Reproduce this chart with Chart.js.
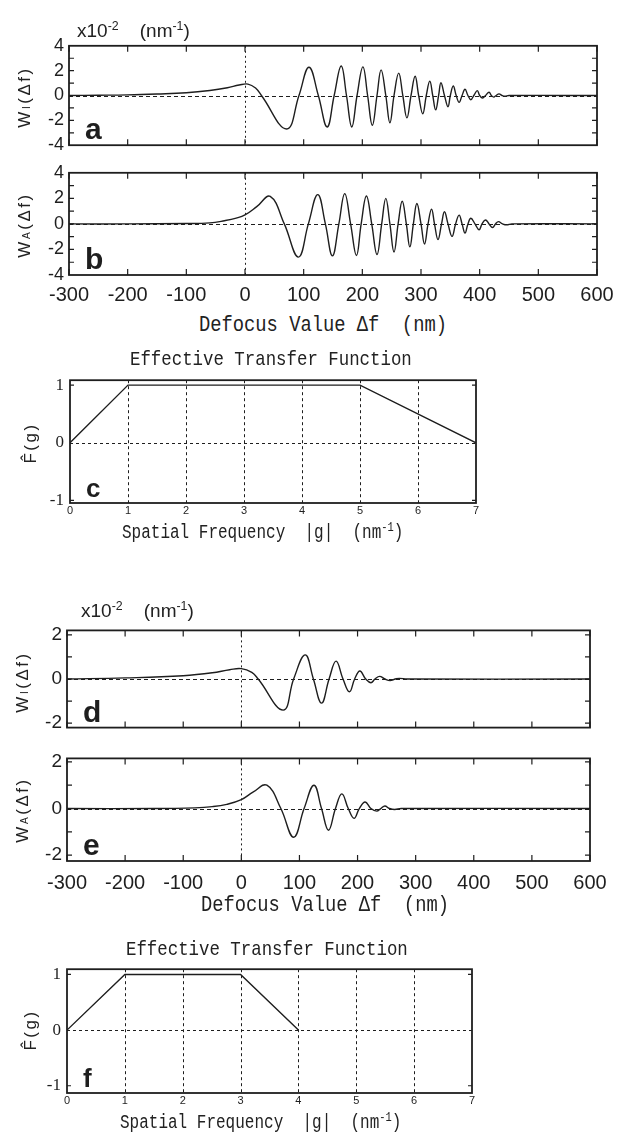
<!DOCTYPE html>
<html>
<head>
<meta charset="utf-8">
<script src="https://cdn.jsdelivr.net/npm/chart.js"></script>
<style>
  html, body { margin: 0; padding: 0; background: #fff; }
  body { width: 618px; height: 1133px; position: relative; overflow: hidden;
         font-family: "Liberation Sans", Arial, sans-serif; color: #222; }
  canvas { position: absolute; }
  .t { position: absolute; white-space: pre; line-height: 1; }
  .mono { font-family: "Liberation Mono", "DejaVu Sans Mono", monospace; }
  .unit { font-size: 19px; transform: translateY(-50%); }
  .ytitle { position: absolute; white-space: pre; line-height: 1; font-size: 17px; letter-spacing: 2.5px;
            transform: translate(-50%, -50%) rotate(-90deg); }
  sup { font-size: 0.65em; vertical-align: 0.55em; line-height: 0; }
  sub { font-size: 0.6em; vertical-align: -0.05em; line-height: 0; }
</style>
</head>
<body>
<canvas id="pa"></canvas>
<canvas id="pb"></canvas>
<canvas id="pc"></canvas>
<canvas id="pd"></canvas>
<canvas id="pe"></canvas>
<canvas id="pf"></canvas>

<div class="t unit" style="left:77px;top:30px">x10<sup>-2</sup>    (nm<sup>-1</sup>)</div>
<div class="t mono" style="left:199px;top:325px;font-size:18.8px;transform:translateY(-50%) scaleY(1.2)">Defocus Value Δf  (nm)</div>
<div class="t mono" style="left:130px;top:360px;font-size:17.4px;transform:translateY(-50%) scaleY(1.15)">Effective Transfer Function</div>
<div class="t mono" style="left:122px;top:533px;font-size:16px;transform:translateY(-50%) scaleY(1.25)">Spatial Frequency  |g|  (nm<sup>-1</sup>)</div>

<div class="t unit" style="left:81px;top:610px">x10<sup>-2</sup>    (nm<sup>-1</sup>)</div>
<div class="t mono" style="left:201px;top:905px;font-size:18.8px;transform:translateY(-50%) scaleY(1.2)">Defocus Value Δf  (nm)</div>
<div class="t mono" style="left:126px;top:950px;font-size:17.4px;transform:translateY(-50%) scaleY(1.15)">Effective Transfer Function</div>
<div class="t mono" style="left:120px;top:1123px;font-size:16px;transform:translateY(-50%) scaleY(1.25)">Spatial Frequency  |g|  (nm<sup>-1</sup>)</div>

<div class="ytitle" style="left:24px;top:97px">W<sub>I</sub>(Δf)</div>
<div class="ytitle" style="left:24px;top:225px">W<sub>A</sub>(Δf)</div>
<div class="ytitle" style="left:30px;top:443px">F̂(g)</div>
<div class="ytitle" style="left:22px;top:682px">W<sub>I</sub>(Δf)</div>
<div class="ytitle" style="left:22px;top:810px">W<sub>A</sub>(Δf)</div>
<div class="ytitle" style="left:30px;top:1030px">F̂(g)</div>

<script>
// tick values
const defocusTicks = [-300, -200, -100, 0, 100, 200, 300, 400, 500, 600];
const freqTicks = [0, 1, 2, 3, 4, 5, 6, 7];
const wTicksAB = [-4, -2, 0, 2, 4];
const wMinorAB = [-3, -2, -1, 0, 1, 2, 3];
const wTicksDE = [-2, 0, 2];
const wMinorDE = [-2, -1, 0, 1, 2];
const fTicks = [-1, 0, 1];

// a: W_I(Δf), x10^-2 nm^-1
const aDefocus = [-300, -250, -200, -150, -100, -60, -30, -10, 5, 18,
  28, 71, 92, 109, 125, 140, 152, 164, 173, 182, 191, 201,
  209, 217, 225, 232, 240, 247, 254, 262, 269, 276, 283, 290,
  296, 303, 309, 315, 320, 325, 330, 334, 340, 346, 350, 355,
  360, 365, 370, 375, 380, 385, 390, 396, 400, 405, 410, 416,
  420, 424, 428, 433, 438, 443, 450, 600];
const aWI = [0, 0.02, 0.05, 0.12, 0.22, 0.4, 0.62, 0.84, 0.92, 0.6,
  0, -2.7, 0, 2.27, 0, -2.53, 0, 2.37, 0, -2.53, 0, 2.3,
  0, -2.4, 0, 2.06, 0, -2.2, 0, 1.8, 0, -1.8, 0, 1.55,
  0, -1.47, 0, 1.16, 0, -1.16, 0, 1.03, 0, -0.9, 0, 0.77,
  0, -0.55, 0, 0.5, 0, -0.34, 0, 0.39, 0, -0.2, 0, 0.26,
  0, -0.13, 0, 0.13, 0, -0.06, 0, 0];

// b: W_A(Δf)
const bDefocus = [-300, -200, -100, -60, -35, -15, 0, 20, 43,
  67, 91, 108, 124, 137, 149, 160, 170, 180, 190, 198, 207,
  216, 225, 233, 240, 247, 254, 261, 268, 275, 281, 287, 293,
  300, 306, 312, 318, 323, 329, 335, 340, 346, 353, 359, 365,
  370, 375, 380, 385, 392, 399, 404, 410, 416, 422, 427, 432,
  439, 446, 455, 600];
const bWA = [0, 0, 0.03, 0.08, 0.25, 0.45, 0.7, 1.35, 2.16,
  0, -2.6, 0, 2.29, 0, -2.5, 0, 2.37, 0, -2.47, 0, 2.18,
  0, -2.4, 0, 2.0, 0, -2.2, 0, 1.77, 0, -1.8, 0, 1.6,
  0, -1.57, 0, 1.16, 0, -1.23, 0, 0.95, 0, -0.98, 0, 0.69,
  0, -0.72, 0, 0.44, 0, -0.46, 0, 0.31, 0, -0.28, 0, 0.18,
  0, -0.08, 0, 0];

// c: effective transfer function
const cFreq = [0, 1, 5, 7];
const cF = [0, 1, 1, 0];

// d: W_I(Δf), narrower band
const dDefocus = [-300, -200, -100, -50, -20, 0, 18,
  29, 72, 90, 110, 124, 138, 151, 163, 175, 186, 195, 204,
  214, 223, 230, 238, 247, 256, 265, 272, 285, 600];
const dWI = [0, 0.05, 0.15, 0.28, 0.42, 0.47, 0.3,
  0, -1.41, 0, 1.09, 0, -1.09, 0, 0.81, 0, -0.58, 0, 0.36,
  0, -0.17, 0, 0.12, 0, -0.07, 0, 0.03, 0, 0];

// e: W_A(Δf), narrower band
const eDefocus = [-300, -150, -80, -50, -25, 0, 20, 44,
  68, 90, 108, 125, 138, 150, 162, 173, 184, 194, 203, 213,
  223, 233, 240, 247, 255, 264, 275, 600];
const eWA = [0, 0, 0.03, 0.08, 0.18, 0.38, 0.7, 1.0,
  0, -1.23, 0, 1.0, 0, -0.93, 0, 0.63, 0, -0.42, 0, 0.28,
  0, -0.11, 0, 0.11, 0, -0.04, 0, 0];

// f: effective transfer function
const fFreq = [0, 1, 3, 4];
const fF = [0, 1, 1, 0];

const INK = '#1e1e1e';
const SANS = '"Liberation Sans", Arial, sans-serif';

function pts(xs, ys) {
  return xs.map((x, i) => ({ x: x, y: ys[i] }));
}

function frameFor(o) {
  return {
    id: 'frame',
    beforeDatasetsDraw(chart) {
      const { ctx, chartArea: a, scales: { x, y } } = chart;
      ctx.save();
      ctx.strokeStyle = INK;
      ctx.lineWidth = 1;
      ctx.setLineDash(o.hDash);
      o.hLines.forEach(v => {
        const py = Math.round(y.getPixelForValue(v)) + 0.5;
        ctx.beginPath(); ctx.moveTo(a.left, py); ctx.lineTo(a.right, py); ctx.stroke();
      });
      ctx.setLineDash(o.vDash);
      o.vLines.forEach(v => {
        const px = Math.round(x.getPixelForValue(v)) + 0.5;
        ctx.beginPath(); ctx.moveTo(px, a.top); ctx.lineTo(px, a.bottom); ctx.stroke();
      });
      ctx.restore();
    },
    afterDatasetsDraw(chart) {
      const { ctx, chartArea: a, scales: { x, y } } = chart;
      ctx.save();
      ctx.strokeStyle = INK;
      ctx.lineWidth = 1.2;
      o.xMarks.forEach(v => {
        const px = x.getPixelForValue(v);
        ctx.beginPath();
        ctx.moveTo(px, a.top); ctx.lineTo(px, a.top + o.tickLen);
        ctx.moveTo(px, a.bottom); ctx.lineTo(px, a.bottom - o.tickLen);
        ctx.stroke();
      });
      o.yMarks.forEach(v => {
        const py = y.getPixelForValue(v);
        ctx.beginPath();
        ctx.moveTo(a.left, py); ctx.lineTo(a.left + o.tickLen - 1, py);
        ctx.moveTo(a.right, py); ctx.lineTo(a.right - o.tickLen + 1, py);
        ctx.stroke();
      });
      ctx.lineWidth = 1.8;
      ctx.strokeRect(a.left, a.top, a.right - a.left, a.bottom - a.top);
      ctx.fillStyle = INK;
      ctx.font = o.letterFont;
      ctx.textBaseline = 'alphabetic';
      ctx.fillText(o.letter, a.left + 16, a.bottom - 6);
      ctx.restore();
    }
  };
}

function panel(id, box, s) {
  const cv = document.getElementById(id);
  const padTop = 14, yw = 64, padRight = 28;
  const w = box.right - box.left + yw + padRight;
  const h = box.bottom - box.top + padTop + s.xh;
  cv.width = w; cv.height = h;
  cv.style.left = (box.left - yw) + 'px';
  cv.style.top = (box.top - padTop) + 'px';
  cv.style.width = w + 'px';
  cv.style.height = h + 'px';
  return new Chart(cv, {
    type: 'line',
    data: {
      datasets: [{
        data: s.points,
        borderColor: INK,
        borderWidth: 1.4,
        pointRadius: 0,
        fill: false,
        tension: s.smooth ? 0.42 : 0
      }]
    },
    options: {
      responsive: false,
      animation: false,
      devicePixelRatio: 1,
      layout: { padding: { top: padTop, right: padRight, left: 0, bottom: 0 } },
      plugins: { legend: { display: false }, tooltip: { enabled: false } },
      scales: {
        x: {
          type: 'linear', min: s.xMin, max: s.xMax,
          grid: { display: false, drawTicks: false },
          border: { display: false },
          ticks: { display: s.xLabels, padding: s.xPad, color: INK, font: s.xFont, maxRotation: 0, autoSkip: false },
          afterBuildTicks: sc => { sc.ticks = s.xTicks.map(v => ({ value: v })); },
          afterFit: sc => { sc.height = s.xh; }
        },
        y: {
          type: 'linear', min: s.yMin, max: s.yMax,
          grid: { display: false, drawTicks: false },
          border: { display: false },
          ticks: { padding: s.yPad, color: INK, font: s.yFont, autoSkip: false },
          afterBuildTicks: sc => { sc.ticks = s.yTicks.map(v => ({ value: v })); },
          afterFit: sc => { sc.width = yw; }
        }
      }
    },
    plugins: [frameFor(s.frame)]
  });
}

const defocusFrame = (letter, minor) => ({
  hLines: [0], hDash: [4, 3], vLines: [0], vDash: [2, 3],
  xMarks: defocusTicks, yMarks: minor, tickLen: 6,
  letter: letter, letterFont: 'bold 30px ' + SANS
});
const tfFrame = (letter) => ({
  hLines: [0], hDash: [3, 3], vLines: freqTicks.slice(1, -1), vDash: [3, 3],
  xMarks: [], yMarks: [-1, 1], tickLen: 5,
  letter: letter, letterFont: 'bold 26px ' + SANS
});

panel('pa', { left: 69, top: 44, right: 597, bottom: 147 }, {
  points: pts(aDefocus, aWI), smooth: true,
  xMin: -300, xMax: 600, xTicks: defocusTicks, xLabels: false, xh: 14, xPad: 8, xFont: { family: SANS, size: 20 },
  yMin: -4, yMax: 4, yTicks: wTicksAB, yPad: 5, yFont: { family: SANS, size: 18 },
  frame: defocusFrame('a', wMinorAB)
});
panel('pb', { left: 69, top: 171, right: 597, bottom: 275 }, {
  points: pts(bDefocus, bWA), smooth: true,
  xMin: -300, xMax: 600, xTicks: defocusTicks, xLabels: true, xh: 34, xPad: 8, xFont: { family: SANS, size: 20 },
  yMin: -4, yMax: 4, yTicks: wTicksAB, yPad: 5, yFont: { family: SANS, size: 18 },
  frame: defocusFrame('b', wMinorAB)
});
panel('pc', { left: 70, top: 378, right: 476, bottom: 503 }, {
  points: pts(cFreq, cF), smooth: false,
  xMin: 0, xMax: 7, xTicks: freqTicks, xLabels: true, xh: 22, xPad: 1,
  xFont: { family: '"Liberation Sans Narrow", ' + SANS, size: 11 },
  yMin: -1.045, yMax: 1.085, yTicks: fTicks, yPad: 6, yFont: { family: '"Liberation Serif", serif', size: 17 },
  frame: tfFrame('c')
});
panel('pd', { left: 67, top: 628, right: 590, bottom: 730 }, {
  points: pts(dDefocus, dWI), smooth: true,
  xMin: -300, xMax: 600, xTicks: defocusTicks, xLabels: false, xh: 14, xPad: 8, xFont: { family: SANS, size: 20 },
  yMin: -2.2, yMax: 2.2, yTicks: wTicksDE, yPad: 5, yFont: { family: SANS, size: 19 },
  frame: defocusFrame('d', wMinorDE)
});
panel('pe', { left: 67, top: 756, right: 590, bottom: 861 }, {
  points: pts(eDefocus, eWA), smooth: true,
  xMin: -300, xMax: 600, xTicks: defocusTicks, xLabels: true, xh: 36, xPad: 10, xFont: { family: SANS, size: 20 },
  yMin: -2.25, yMax: 2.15, yTicks: wTicksDE, yPad: 5, yFont: { family: SANS, size: 19 },
  frame: defocusFrame('e', wMinorDE)
});
panel('pf', { left: 67, top: 967, right: 472, bottom: 1093 }, {
  points: pts(fFreq, fF), smooth: false,
  xMin: 0, xMax: 7, xTicks: freqTicks, xLabels: true, xh: 22, xPad: 1,
  xFont: { family: '"Liberation Sans Narrow", ' + SANS, size: 11 },
  yMin: -1.13, yMax: 1.094, yTicks: fTicks, yPad: 6, yFont: { family: '"Liberation Serif", serif', size: 17 },
  frame: tfFrame('f')
});
</script>
</body>
</html>
